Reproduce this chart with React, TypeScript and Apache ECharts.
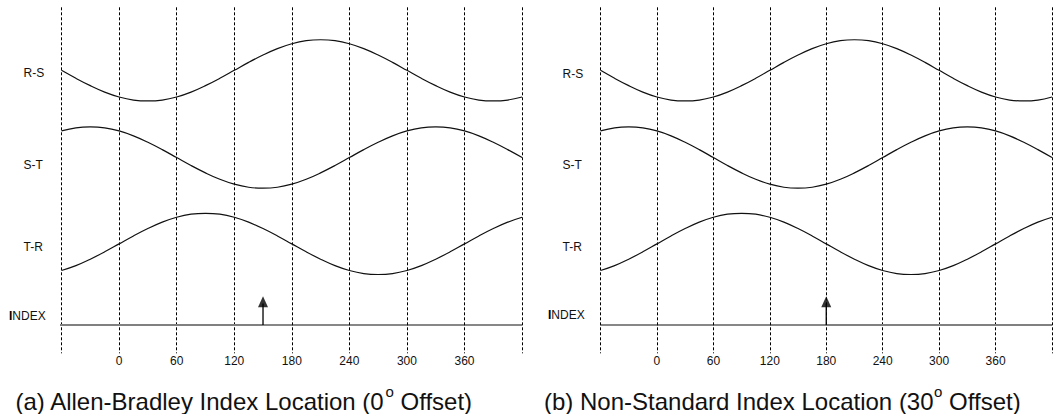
import React, { useEffect, useRef } from "react";
import * as echarts from "echarts";

// Electrical angle (degrees) of the sampled points
const degrees = [
  -60, -45, -30, -15, 0, 15, 30, 45, 60, 75, 90, 105, 120, 135, 150, 165, 180,
  195, 210, 225, 240, 255, 270, 285, 300, 315, 330, 345, 360, 375, 390, 405, 420,
];

// Normalised waveform values (amplitude ~1)
const rsWave = [
  0.0, -0.26, -0.5, -0.71, -0.87, -0.97, -1.0, -0.97, -0.87, -0.71, -0.5, -0.26,
  0.0, 0.26, 0.5, 0.71, 0.87, 0.97, 1.0, 0.97, 0.87, 0.71, 0.5, 0.26, 0.0,
  -0.26, -0.5, -0.71, -0.87, -0.97, -1.0, -0.97, -0.87,
];
const stWave = [
  0.87, 0.97, 1.0, 0.97, 0.87, 0.71, 0.5, 0.26, 0.0, -0.26, -0.5, -0.71, -0.87,
  -0.97, -1.0, -0.97, -0.87, -0.71, -0.5, -0.26, 0.0, 0.26, 0.5, 0.71, 0.87,
  0.97, 1.0, 0.97, 0.87, 0.71, 0.5, 0.26, 0.0,
];
const trWave = [
  -0.87, -0.71, -0.5, -0.26, 0.0, 0.26, 0.5, 0.71, 0.87, 0.97, 1.0, 0.97, 0.87,
  0.71, 0.5, 0.26, 0.0, -0.26, -0.5, -0.71, -0.87, -0.97, -1.0, -0.97, -0.87,
  -0.71, -0.5, -0.26, 0.0, 0.26, 0.5, 0.71, 0.87,
];

const xTickLabels = [0, 60, 120, 180, 240, 300, 360];
const traceNames = ["R-S", "S-T", "T-R"];
const indexAngles = [150, 180]; // panel (a), panel (b)
const indexStart = [-64, -60];
const indexEnd = [420, 420];
const captions = [
  ["(a) Allen-Bradley Index Location (0", "o", " Offset)"],
  ["(b) Non-Standard Index Location (30", "o", " Offset)"],
];

const FONT = '"Liberation Sans", Arial, Helvetica, sans-serif';

export default function App() {
  const ref = useRef<HTMLDivElement>(null);

  useEffect(() => {
    if (!ref.current) return;
    const chart = echarts.init(ref.current, null, { renderer: "svg" });

    const levels = [8.32, 5.47, 2.65];
    const waves = [rsWave, stWave, trWave];
    const gridLefts = [61.5, 600.5];
    const gridTop = 7.3;
    const gridW = 460.6;
    const gridH = 346;

    const grids = gridLefts.map((l) => ({ left: l, top: gridTop, width: gridW, height: gridH }));
    const xAxes = gridLefts.map((_, p) => ({
      type: "value",
      gridIndex: p,
      min: -60,
      max: 420,
      interval: 60,
      axisLine: { show: false },
      axisTick: { show: false },
      splitLine: {
        show: true,
        lineStyle: { color: "#000", width: 1, type: [3, 2] },
      },
      axisLabel: {
        show: true,
        margin: 2,
        fontSize: 12,
        fontFamily: FONT,
        color: "#111",
        formatter: (v: number) => (xTickLabels.indexOf(v) >= 0 ? String(v) : ""),
      },
    }));
    const yAxes = gridLefts.map((_, p) => ({
      type: "value",
      gridIndex: p,
      min: -0.925,
      max: 10.38,
      show: false,
      splitLine: { show: false },
    }));

    const series: any[] = [];
    gridLefts.forEach((_, p) => {
      waves.forEach((w, k) => {
        series.push({
          type: "line",
          name: traceNames[k],
          xAxisIndex: p,
          yAxisIndex: p,
          data: degrees.map((d, i) => [d, w[i] + levels[k]]),
          smooth: 0.4,
          showSymbol: false,
          symbol: "none",
          lineStyle: { color: "#111", width: 1.2 },
          silent: true,
        });
      });
      const a = indexAngles[p];
      const grayPart = p === 0 ? [[indexStart[p], 0], [a, 0]] : [[a, 0], [indexEnd[p], 0]];
      const blackPart = p === 0 ? [[a, 0], [indexEnd[p], 0]] : [[indexStart[p], 0], [a, 0]];
      series.push({
        type: "line",
        xAxisIndex: p,
        yAxisIndex: p,
        data: grayPart,
        clip: false,
        showSymbol: false,
        symbol: "none",
        lineStyle: { color: "#808080", width: 2 },
        silent: true,
      });
      series.push({
        type: "line",
        xAxisIndex: p,
        yAxisIndex: p,
        data: blackPart,
        clip: false,
        showSymbol: false,
        symbol: "none",
        lineStyle: { color: "#111", width: 1.2 },
        silent: true,
      });
      series.push({
        type: "line",
        xAxisIndex: p,
        yAxisIndex: p,
        data: [[a, 0], [a, 0.7]],
        showSymbol: false,
        symbol: "none",
        lineStyle: { color: "#000", width: 1.3 },
        silent: true,
      });
      series.push({
        type: "scatter",
        xAxisIndex: p,
        yAxisIndex: p,
        data: [[a, 0.76]],
        symbol: "triangle",
        symbolSize: [10, 11],
        itemStyle: { color: "#000" },
        silent: true,
      });
    });

    const measure = (txt: string, size: number) => {
      const c = document.createElement("canvas").getContext("2d")!;
      c.font = `${size}px ${FONT}`;
      return c.measureText(txt).width;
    };

    const graphics: any[] = [];
    const labelYs = [
      [72.7, 165, 246.7],
      [74, 165, 246.7],
    ];
    const indexYs = [315.7, 315];
    gridLefts.forEach((gl, p) => {
      traceNames.forEach((name, k) => {
        graphics.push({
          type: "text",
          x: gl - 38,
          y: labelYs[p][k],
          silent: true,
          style: {
            text: name,
            fontSize: 12,
            fontFamily: FONT,
            fill: "#111",
            align: "left",
            textAlign: "left",
            verticalAlign: "middle",
            textVerticalAlign: "middle",
          },
        });
      });
      graphics.push({
        type: "text",
        x: gl - 52.5,
        y: indexYs[p],
        silent: true,
        style: {
          text: "{b|I}NDEX",
          fontSize: 12,
          fontFamily: FONT,
          fill: "#111",
          align: "left",
          textAlign: "left",
          verticalAlign: "middle",
          textVerticalAlign: "middle",
          rich: { b: { fontWeight: "bold", fontSize: 12, fontFamily: FONT, fill: "#000" } },
        },
      });

      const [p1, sup, p3] = captions[p];
      const capX = p === 0 ? 15.5 : 544;
      const mainSize = 24;
      const supSize = 15;
      const w1 = measure(p1, mainSize);
      const wsup = measure(sup, supSize);
      const baseStyle = {
        fontFamily: FONT,
        fill: "#111",
        align: "left",
        textAlign: "left",
        verticalAlign: "middle",
        textVerticalAlign: "middle",
      };
      graphics.push({
        type: "text",
        x: capX,
        y: 401.7,
        silent: true,
        style: { ...baseStyle, text: p1, fontSize: mainSize },
      });
      graphics.push({
        type: "text",
        x: capX + w1 + 0.5,
        y: 391.5,
        silent: true,
        style: { ...baseStyle, text: sup, fontSize: supSize },
      });
      graphics.push({
        type: "text",
        x: capX + w1 + wsup + 0.5,
        y: 401.7,
        silent: true,
        style: { ...baseStyle, text: p3, fontSize: mainSize },
      });
    });

    chart.setOption({
      animation: false,
      backgroundColor: "#ffffff",
      grid: grids,
      xAxis: xAxes,
      yAxis: yAxes,
      series,
      graphic: graphics,
    });

    return () => chart.dispose();
  }, []);

  return (
    <div
      ref={ref}
      style={{ position: "fixed", left: 0, top: 0, width: 1055, height: 414, background: "#fff" }}
    />
  );
}
